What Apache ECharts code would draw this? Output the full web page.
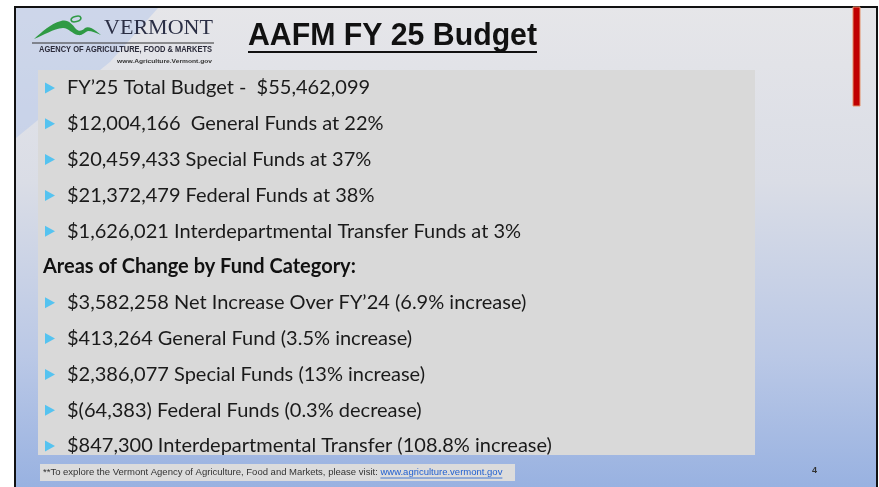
<!DOCTYPE html>
<html>
<head>
<meta charset="utf-8">
<title>AAFM FY 25 Budget</title>
<script src="https://cdn.jsdelivr.net/npm/echarts@6/dist/echarts.min.js"></script>
<style>
  html, body { margin: 0; padding: 0; background: #fff; }
  #slide { width: 879px; height: 487px; }
</style>
</head>
<body>
<div id="slide"></div>
<script>
// slide text
var titleText = 'AAFM FY 25 Budget';
var budgetLines = [
  'FY\u201925 Total Budget -  $55,462,099',
  '$12,004,166  General Funds at 22%',
  '$20,459,433 Special Funds at 37%',
  '$21,372,479 Federal Funds at 38%',
  '$1,626,021 Interdepartmental Transfer Funds at 3%'
];
var changeHeading = 'Areas of Change by Fund Category:';
var changeLines = [
  '$3,582,258 Net Increase Over FY\u201924 (6.9% increase)',
  '$413,264 General Fund (3.5% increase)',
  '$2,386,077 Special Funds (13% increase)',
  '$(64,383) Federal Funds (0.3% decrease)',
  '$847,300 Interdepartmental Transfer (108.8% increase)'
];
var footerText = '**To explore the Vermont Agency of Agriculture, Food and Markets, please visit: ';
var footerLink = 'www.agriculture.vermont.gov';
var pageNo = '4';

var bodyFont = 'Lato, "Open Sans", sans-serif';

// text width helper (underlines, condensed text)
var ctx = document.createElement('canvas').getContext('2d');
function textWidth(str, font) {
  ctx.font = font;
  return ctx.measureText(str).width;
}

// the green mountain of the logo
echarts.graphic.registerShape('swoosh', echarts.graphic.extendPath(
  'M34,39 C42,32 50,24 61,21 C68,19 72,24 76,29 C79,32 82,31 85,28 C88,26 92,28 96,31 L101,35 ' +
  'C96,33 92,31 88,31 C85,32 82,36 78,35 C72,34 69,28 63,28 C53,29 44,35 34,39 Z'
));

var chart = echarts.init(document.getElementById('slide'), null, { renderer: 'canvas' });

var g = [];

// frame + background
g.push({
  type: 'rect', z: 0,
  shape: { x: 15, y: 7, width: 862, height: 500 },
  style: {
    fill: new echarts.graphic.LinearGradient(0, 0, 0, 1, [
      { offset: 0, color: '#e6e6e9' },
      { offset: 0.35, color: '#dadde6' },
      { offset: 0.7, color: '#bac8e6' },
      { offset: 1, color: '#93aee0' }
    ]),
    stroke: '#111', lineWidth: 2
  }
});
// light blue wedge behind the logo
g.push({
  type: 'polygon', z: 1,
  shape: { points: [[16, 8], [158, 8], [110, 62], [38, 120], [16, 138]] },
  style: { fill: 'rgba(175,196,234,0.45)' }
});

// red bar top right
g.push({
  type: 'rect', z: 2,
  shape: { x: 853, y: 7, width: 7, height: 99 },
  style: { fill: '#c00000', stroke: '#e3906a', lineWidth: 1 }
});

// logo
g.push({ type: 'swoosh', z: 3, shape: {}, style: { fill: '#2f9a44' } });
g.push({
  type: 'ellipse', z: 3,
  shape: { cx: 76, cy: 19, rx: 5, ry: 2.6 },
  rotation: 0.25, originX: 76, originY: 19,
  style: { fill: 'none', stroke: '#2f9a44', lineWidth: 1.6 }
});
var vtFont = '22px "Liberation Serif", serif';
g.push({
  type: 'text', z: 3, x: 104, y: 28,
  scaleX: 109 / textWidth('VERMONT', vtFont),
  style: { text: 'VERMONT', fill: '#2b2f45', font: vtFont, verticalAlign: 'middle' }
});
g.push({
  type: 'line', z: 3,
  shape: { x1: 32, y1: 43, x2: 214, y2: 43 },
  style: { stroke: '#333', lineWidth: 1.2 }
});
var agFont = 'bold 8.5px "Liberation Sans", sans-serif';
var agText = 'AGENCY OF AGRICULTURE, FOOD & MARKETS';
g.push({
  type: 'text', z: 3, x: 39, y: 50,
  scaleX: 173 / textWidth(agText, agFont),
  style: { text: agText, fill: '#2b2b3a', font: agFont, verticalAlign: 'middle' }
});
var wwwFont = 'bold 6px "Liberation Sans", sans-serif';
var wwwText = 'www.Agriculture.Vermont.gov';
g.push({
  type: 'text', z: 3, x: 117, y: 61,
  scaleX: 95 / textWidth(wwwText, wwwFont),
  style: { text: wwwText, fill: '#333', font: wwwFont, verticalAlign: 'middle' }
});

// title (condensed bold)
var titleFontStr = 'bold 32px "Liberation Sans", Arial, sans-serif';
var titleW = 289;
g.push({
  type: 'text', z: 3, x: 248, y: 36,
  scaleX: titleW / textWidth(titleText, titleFontStr),
  style: { text: titleText, fill: '#111', font: titleFontStr, verticalAlign: 'middle' }
});
g.push({
  type: 'rect', z: 3,
  shape: { x: 248, y: 51, width: titleW, height: 2 },
  style: { fill: '#111' }
});

// content box
g.push({
  type: 'rect', z: 2,
  shape: { x: 38, y: 70, width: 717, height: 385 },
  style: { fill: '#d9d9d9' }
});

// bullet rows
var rowTop = 88, rowStep = 35.8;
var rows = [];
budgetLines.forEach(function (t) { rows.push({ text: t, bullet: true }); });
rows.push({ text: changeHeading, bullet: false });
changeLines.forEach(function (t) { rows.push({ text: t, bullet: true }); });

rows.forEach(function (r, i) {
  var y = rowTop + i * rowStep;
  if (r.bullet) {
    g.push({
      type: 'polygon', z: 4,
      shape: { points: [[45, y - 5.5], [55, y], [45, y + 5.5]] },
      style: { fill: '#55c3f0' }
    });
    g.push({
      type: 'text', z: 4, x: 67, y: y,
      style: { text: r.text, fill: '#1a1a1a', font: '20px ' + bodyFont, verticalAlign: 'middle' }
    });
  } else {
    g.push({
      type: 'text', z: 4, x: 43, y: y,
      style: { text: r.text, fill: '#111', font: 'bold 20px ' + bodyFont, verticalAlign: 'middle' }
    });
  }
});

// footer
g.push({
  type: 'rect', z: 2,
  shape: { x: 40, y: 464, width: 475, height: 17 },
  style: { fill: '#dcdcdc' }
});
var footFont = '9.5px "Liberation Sans", Arial, sans-serif';
var footW = textWidth(footerText, footFont);
var linkW = textWidth(footerLink, footFont);
g.push({
  type: 'text', z: 4, x: 43, y: 472.5,
  style: { text: footerText, fill: '#333', font: footFont, verticalAlign: 'middle' }
});
g.push({
  type: 'text', z: 4, x: 43 + footW, y: 472.5,
  style: { text: footerLink, fill: '#1f5fd1', font: footFont, verticalAlign: 'middle' }
});
g.push({
  type: 'line', z: 4,
  shape: { x1: 43 + footW, y1: 478, x2: 43 + footW + linkW, y2: 478 },
  style: { stroke: '#1f5fd1', lineWidth: 0.8 }
});
g.push({
  type: 'text', z: 4, x: 812, y: 471,
  style: { text: pageNo, fill: '#333', font: 'bold 9px "Liberation Sans", sans-serif', verticalAlign: 'middle' }
});

chart.setOption({
  backgroundColor: '#fff',
  animation: false,
  graphic: { elements: g }
});
</script>
</body>
</html>
